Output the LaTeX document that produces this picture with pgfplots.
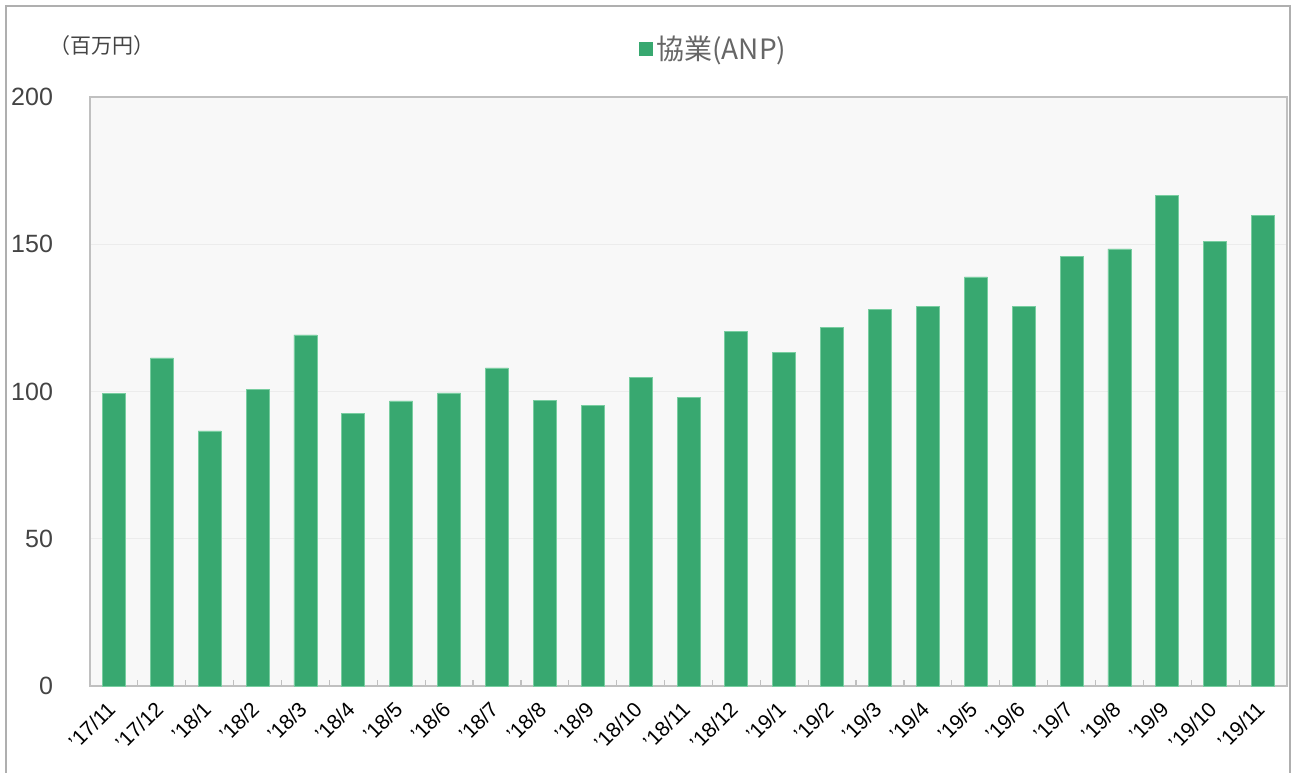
\documentclass[border=0pt]{standalone}
\usepackage{pgfplots}
\pgfplotsset{compat=1.18}
\usepackage{fontspec}
\setmainfont{Liberation Sans}
\newfontfamily\cjk{Noto Sans CJK JP}
\definecolor{barGreen}{RGB}{56,168,112}
\definecolor{barEdge}{RGB}{120,205,160}
\definecolor{frameGray}{RGB}{175,175,175}
\definecolor{axisGray}{RGB}{192,192,192}
\definecolor{bgGray}{RGB}{248,248,248}
\definecolor{gridGray}{RGB}{236,236,236}
\definecolor{labelGray}{RGB}{68,68,68}
\definecolor{legGray}{RGB}{102,102,102}
\begin{document}
\begin{tikzpicture}
\useasboundingbox (-45pt,-43pt) rectangle (602.5pt,343pt);
\draw[frameGray, line width=1pt] (-42pt,-50pt) -- (-42pt,340pt) -- (600pt,340pt) -- (600pt,-50pt);
\node[font=\cjk\fontsize{10.5}{12}\selectfont, text=labelGray] at (6pt,320pt) {（百万円）};
\begin{axis}[
  at={(0pt,0pt)}, anchor=south west,
  scale only axis, width=598.5pt, height=294.5pt,
  xmin=-0.5, xmax=24.5, ymin=0, ymax=200,
  ytick={0,50,100,150,200},
  xtick={0,...,24},
  xticklabels={'17/11,'17/12,'18/1,'18/2,'18/3,'18/4,'18/5,'18/6,'18/7,'18/8,'18/9,'18/10,'18/11,'18/12,'19/1,'19/2,'19/3,'19/4,'19/5,'19/6,'19/7,'19/8,'19/9,'19/10,'19/11},
  minor xtick={0.5,1.5,...,23.5},
  major tick length=0pt, minor tick length=3pt,
  tick align=inside, tick pos=left,
  tick style={axisGray, line width=0.6pt},
  axis line style={axisGray, line width=1pt},
  axis background/.style={fill=bgGray},
  ymajorgrids=true,
  major grid style={gridGray, line width=0.5pt},
  /pgf/number format/assume math mode=true,
  yticklabel style={font=\fontsize{12.5}{14}\selectfont, text=labelGray, xshift=-15pt},
  xticklabel style={font=\fontsize{10.5}{12}\selectfont, text=black, xshift=-4pt, yshift=-2pt, rotate=45, anchor=north east},
  legend style={at={(0.458,1.0815)}, anchor=west, draw=none, fill=none,
    font=\cjk\fontsize{14}{16}\selectfont, text=legGray, inner sep=0pt},
]
\addplot[ybar, bar width=11.5pt, fill=barGreen, draw=barEdge, line width=0.4pt,
  legend image code/.code={\fill[barGreen] (0pt,-3.25pt) rectangle (6.5pt,3.25pt);}]
coordinates {
(0,99.2) (1,111.4) (2,86.6) (3,100.8) (4,119.2) (5,92.4) (6,96.8) (7,99.5) (8,108.0) (9,97.1)
(10,95.4) (11,104.9) (12,98.1) (13,120.5) (14,113.4) (15,121.6) (16,128.0) (17,129.0) (18,138.9) (19,129.0)
(20,146.0) (21,148.4) (22,166.7) (23,151.1) (24,159.8)
};
\addlegendentry{協業(ANP)}
\end{axis}
\end{tikzpicture}
\end{document}
